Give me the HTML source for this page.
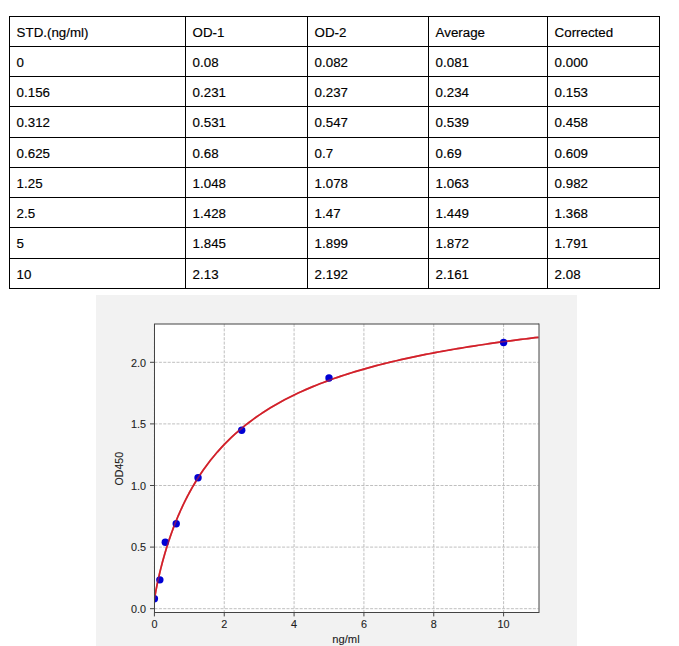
<!DOCTYPE html><html><head><meta charset="utf-8"><style>html,body{margin:0;padding:0;background:#fff;width:679px;height:646px;overflow:hidden}svg{display:block}text{font-family:"Liberation Sans",sans-serif}</style></head><body>
<svg width="679" height="646" viewBox="0 0 679 646">
<rect x="9" y="16" width="651" height="1" fill="#000"/>
<rect x="9" y="46" width="651" height="1" fill="#000"/>
<rect x="9" y="76" width="651" height="1" fill="#000"/>
<rect x="9" y="106" width="651" height="1" fill="#000"/>
<rect x="9" y="137" width="651" height="1" fill="#000"/>
<rect x="9" y="167" width="651" height="1" fill="#000"/>
<rect x="9" y="197" width="651" height="1" fill="#000"/>
<rect x="9" y="227" width="651" height="1" fill="#000"/>
<rect x="9" y="258" width="651" height="1" fill="#000"/>
<rect x="9" y="288" width="651" height="1" fill="#000"/>
<rect x="9" y="16" width="1" height="273" fill="#000"/>
<rect x="185" y="16" width="1" height="273" fill="#000"/>
<rect x="307" y="16" width="1" height="273" fill="#000"/>
<rect x="428" y="16" width="1" height="273" fill="#000"/>
<rect x="547" y="16" width="1" height="273" fill="#000"/>
<rect x="659" y="16" width="1" height="273" fill="#000"/>
<text transform="translate(16.6,37) scale(1.035,1)" font-size="12.9" fill="#000" stroke="#000" stroke-width="0.15">STD.(ng/ml)</text>
<text transform="translate(192.6,37) scale(1.035,1)" font-size="12.9" fill="#000" stroke="#000" stroke-width="0.15">OD-1</text>
<text transform="translate(314.6,37) scale(1.035,1)" font-size="12.9" fill="#000" stroke="#000" stroke-width="0.15">OD-2</text>
<text transform="translate(435.6,37) scale(1.035,1)" font-size="12.9" fill="#000" stroke="#000" stroke-width="0.15">Average</text>
<text transform="translate(554.6,37) scale(1.035,1)" font-size="12.9" fill="#000" stroke="#000" stroke-width="0.15">Corrected</text>
<text transform="translate(16.6,67) scale(1.035,1)" font-size="12.9" fill="#000" stroke="#000" stroke-width="0.15">0</text>
<text transform="translate(192.6,67) scale(1.035,1)" font-size="12.9" fill="#000" stroke="#000" stroke-width="0.15">0.08</text>
<text transform="translate(314.6,67) scale(1.035,1)" font-size="12.9" fill="#000" stroke="#000" stroke-width="0.15">0.082</text>
<text transform="translate(435.6,67) scale(1.035,1)" font-size="12.9" fill="#000" stroke="#000" stroke-width="0.15">0.081</text>
<text transform="translate(554.6,67) scale(1.035,1)" font-size="12.9" fill="#000" stroke="#000" stroke-width="0.15">0.000</text>
<text transform="translate(16.6,97) scale(1.035,1)" font-size="12.9" fill="#000" stroke="#000" stroke-width="0.15">0.156</text>
<text transform="translate(192.6,97) scale(1.035,1)" font-size="12.9" fill="#000" stroke="#000" stroke-width="0.15">0.231</text>
<text transform="translate(314.6,97) scale(1.035,1)" font-size="12.9" fill="#000" stroke="#000" stroke-width="0.15">0.237</text>
<text transform="translate(435.6,97) scale(1.035,1)" font-size="12.9" fill="#000" stroke="#000" stroke-width="0.15">0.234</text>
<text transform="translate(554.6,97) scale(1.035,1)" font-size="12.9" fill="#000" stroke="#000" stroke-width="0.15">0.153</text>
<text transform="translate(16.6,127) scale(1.035,1)" font-size="12.9" fill="#000" stroke="#000" stroke-width="0.15">0.312</text>
<text transform="translate(192.6,127) scale(1.035,1)" font-size="12.9" fill="#000" stroke="#000" stroke-width="0.15">0.531</text>
<text transform="translate(314.6,127) scale(1.035,1)" font-size="12.9" fill="#000" stroke="#000" stroke-width="0.15">0.547</text>
<text transform="translate(435.6,127) scale(1.035,1)" font-size="12.9" fill="#000" stroke="#000" stroke-width="0.15">0.539</text>
<text transform="translate(554.6,127) scale(1.035,1)" font-size="12.9" fill="#000" stroke="#000" stroke-width="0.15">0.458</text>
<text transform="translate(16.6,158) scale(1.035,1)" font-size="12.9" fill="#000" stroke="#000" stroke-width="0.15">0.625</text>
<text transform="translate(192.6,158) scale(1.035,1)" font-size="12.9" fill="#000" stroke="#000" stroke-width="0.15">0.68</text>
<text transform="translate(314.6,158) scale(1.035,1)" font-size="12.9" fill="#000" stroke="#000" stroke-width="0.15">0.7</text>
<text transform="translate(435.6,158) scale(1.035,1)" font-size="12.9" fill="#000" stroke="#000" stroke-width="0.15">0.69</text>
<text transform="translate(554.6,158) scale(1.035,1)" font-size="12.9" fill="#000" stroke="#000" stroke-width="0.15">0.609</text>
<text transform="translate(16.6,188) scale(1.035,1)" font-size="12.9" fill="#000" stroke="#000" stroke-width="0.15">1.25</text>
<text transform="translate(192.6,188) scale(1.035,1)" font-size="12.9" fill="#000" stroke="#000" stroke-width="0.15">1.048</text>
<text transform="translate(314.6,188) scale(1.035,1)" font-size="12.9" fill="#000" stroke="#000" stroke-width="0.15">1.078</text>
<text transform="translate(435.6,188) scale(1.035,1)" font-size="12.9" fill="#000" stroke="#000" stroke-width="0.15">1.063</text>
<text transform="translate(554.6,188) scale(1.035,1)" font-size="12.9" fill="#000" stroke="#000" stroke-width="0.15">0.982</text>
<text transform="translate(16.6,218) scale(1.035,1)" font-size="12.9" fill="#000" stroke="#000" stroke-width="0.15">2.5</text>
<text transform="translate(192.6,218) scale(1.035,1)" font-size="12.9" fill="#000" stroke="#000" stroke-width="0.15">1.428</text>
<text transform="translate(314.6,218) scale(1.035,1)" font-size="12.9" fill="#000" stroke="#000" stroke-width="0.15">1.47</text>
<text transform="translate(435.6,218) scale(1.035,1)" font-size="12.9" fill="#000" stroke="#000" stroke-width="0.15">1.449</text>
<text transform="translate(554.6,218) scale(1.035,1)" font-size="12.9" fill="#000" stroke="#000" stroke-width="0.15">1.368</text>
<text transform="translate(16.6,248) scale(1.035,1)" font-size="12.9" fill="#000" stroke="#000" stroke-width="0.15">5</text>
<text transform="translate(192.6,248) scale(1.035,1)" font-size="12.9" fill="#000" stroke="#000" stroke-width="0.15">1.845</text>
<text transform="translate(314.6,248) scale(1.035,1)" font-size="12.9" fill="#000" stroke="#000" stroke-width="0.15">1.899</text>
<text transform="translate(435.6,248) scale(1.035,1)" font-size="12.9" fill="#000" stroke="#000" stroke-width="0.15">1.872</text>
<text transform="translate(554.6,248) scale(1.035,1)" font-size="12.9" fill="#000" stroke="#000" stroke-width="0.15">1.791</text>
<text transform="translate(16.6,279) scale(1.035,1)" font-size="12.9" fill="#000" stroke="#000" stroke-width="0.15">10</text>
<text transform="translate(192.6,279) scale(1.035,1)" font-size="12.9" fill="#000" stroke="#000" stroke-width="0.15">2.13</text>
<text transform="translate(314.6,279) scale(1.035,1)" font-size="12.9" fill="#000" stroke="#000" stroke-width="0.15">2.192</text>
<text transform="translate(435.6,279) scale(1.035,1)" font-size="12.9" fill="#000" stroke="#000" stroke-width="0.15">2.161</text>
<text transform="translate(554.6,279) scale(1.035,1)" font-size="12.9" fill="#000" stroke="#000" stroke-width="0.15">2.08</text>
<rect x="96" y="295" width="481" height="351" fill="#f2f2f2"/>
<rect x="154.5" y="324" width="384.5" height="288.5" fill="#fff"/>
<line x1="154.40" y1="324" x2="154.40" y2="612" stroke="#b8b8b8" stroke-width="0.9" stroke-dasharray="3,1.4"/>
<line x1="224.24" y1="324" x2="224.24" y2="612" stroke="#b8b8b8" stroke-width="0.9" stroke-dasharray="3,1.4"/>
<line x1="294.08" y1="324" x2="294.08" y2="612" stroke="#b8b8b8" stroke-width="0.9" stroke-dasharray="3,1.4"/>
<line x1="363.92" y1="324" x2="363.92" y2="612" stroke="#b8b8b8" stroke-width="0.9" stroke-dasharray="3,1.4"/>
<line x1="433.76" y1="324" x2="433.76" y2="612" stroke="#b8b8b8" stroke-width="0.9" stroke-dasharray="3,1.4"/>
<line x1="503.60" y1="324" x2="503.60" y2="612" stroke="#b8b8b8" stroke-width="0.9" stroke-dasharray="3,1.4"/>
<line x1="154.5" y1="608.70" x2="538.5" y2="608.70" stroke="#b8b8b8" stroke-width="0.9" stroke-dasharray="3,1.4"/>
<line x1="154.5" y1="547.10" x2="538.5" y2="547.10" stroke="#b8b8b8" stroke-width="0.9" stroke-dasharray="3,1.4"/>
<line x1="154.5" y1="485.50" x2="538.5" y2="485.50" stroke="#b8b8b8" stroke-width="0.9" stroke-dasharray="3,1.4"/>
<line x1="154.5" y1="423.90" x2="538.5" y2="423.90" stroke="#b8b8b8" stroke-width="0.9" stroke-dasharray="3,1.4"/>
<line x1="154.5" y1="362.30" x2="538.5" y2="362.30" stroke="#b8b8b8" stroke-width="0.9" stroke-dasharray="3,1.4"/>
<polyline points="154.42,599.70 154.51,598.98 154.60,598.34 154.69,597.73 154.78,597.14 154.87,596.56 154.96,596.00 155.05,595.45 155.15,594.91 155.24,594.38 155.33,593.86 155.42,593.34 155.51,592.83 155.60,592.33 155.69,591.83 155.78,591.33 155.87,590.84 155.96,590.36 156.06,589.88 156.15,589.40 156.15,589.40 156.71,586.54 157.27,583.79 157.83,581.15 158.40,578.59 158.96,576.11 159.52,573.70 160.08,571.36 160.64,569.08 161.21,566.85 161.77,564.67 162.33,562.54 162.89,560.46 163.46,558.42 164.02,556.42 164.58,554.46 165.14,552.54 165.70,550.65 166.27,548.80 166.83,546.99 167.39,545.20 167.95,543.45 168.52,541.72 169.08,540.03 169.64,538.36 170.20,536.72 170.77,535.11 171.33,533.52 171.89,531.96 172.45,530.42 173.01,528.90 173.58,527.40 174.14,525.93 174.70,524.48 175.26,523.05 175.83,521.64 176.39,520.25 176.95,518.88 177.51,517.52 178.07,516.19 178.64,514.87 179.20,513.57 179.76,512.29 180.32,511.02 180.89,509.77 181.45,508.54 182.01,507.32 182.57,506.12 183.14,504.93 183.70,503.75 184.26,502.59 184.82,501.45 185.38,500.32 185.95,499.20 186.51,498.09 187.07,497.00 187.63,495.92 188.20,494.85 188.76,493.79 189.32,492.75 189.32,492.75 192.85,486.45 196.37,480.57 199.90,475.05 203.43,469.85 206.96,464.96 210.48,460.34 214.01,455.96 217.54,451.82 221.07,447.88 224.59,444.13 228.12,440.56 231.65,437.15 235.17,433.90 238.70,430.79 242.23,427.81 245.76,424.95 249.28,422.22 252.81,419.58 256.34,417.06 259.87,414.62 263.39,412.28 266.92,410.02 270.45,407.84 273.97,405.74 277.50,403.71 281.03,401.75 284.56,399.85 288.08,398.01 291.61,396.24 295.14,394.51 298.67,392.84 302.19,391.22 305.72,389.65 309.25,388.12 312.77,386.64 316.30,385.20 319.83,383.80 323.36,382.44 326.88,381.11 330.41,379.82 333.94,378.56 337.47,377.34 340.99,376.15 344.52,374.98 348.05,373.85 351.57,372.74 355.10,371.66 358.63,370.61 362.16,369.58 365.68,368.57 369.21,367.59 372.74,366.62 376.27,365.69 379.79,364.77 383.32,363.87 386.85,362.99 390.37,362.13 393.90,361.28 397.43,360.46 400.96,359.65 404.48,358.86 408.01,358.08 411.54,357.32 415.07,356.58 418.59,355.84 422.12,355.13 425.65,354.42 429.17,353.73 432.70,353.06 436.23,352.39 439.76,351.74 443.28,351.10 446.81,350.47 450.34,349.85 453.87,349.24 457.39,348.64 460.92,348.06 464.45,347.48 467.97,346.92 471.50,346.36 475.03,345.81 478.56,345.27 482.08,344.74 485.61,344.22 489.14,343.71 492.67,343.20 496.19,342.70 499.72,342.21 503.25,341.73 506.77,341.26 510.30,340.79 513.83,340.33 517.36,339.88 520.88,339.43 524.41,338.99 527.94,338.56 531.47,338.13 534.99,337.71 538.52,337.30" fill="none" stroke="#d2212a" stroke-width="1.7" clip-path="url(#c)"/>
<g clip-path="url(#c)">
<circle cx="154.40" cy="598.72" r="3.7" fill="#0000d4"/>
<circle cx="159.85" cy="579.87" r="3.7" fill="#0000d4"/>
<circle cx="165.30" cy="542.30" r="3.7" fill="#0000d4"/>
<circle cx="176.23" cy="523.69" r="3.7" fill="#0000d4"/>
<circle cx="198.05" cy="477.74" r="3.7" fill="#0000d4"/>
<circle cx="241.70" cy="430.18" r="3.7" fill="#0000d4"/>
<circle cx="329.00" cy="378.07" r="3.7" fill="#0000d4"/>
<circle cx="503.60" cy="342.46" r="3.7" fill="#0000d4"/>
</g>
<polyline points="154.42,599.70 154.51,598.98 154.60,598.34 154.69,597.73 154.78,597.14 154.87,596.56 154.96,596.00 155.05,595.45 155.15,594.91 155.24,594.38 155.33,593.86 155.42,593.34 155.51,592.83 155.60,592.33 155.69,591.83 155.78,591.33 155.87,590.84 155.96,590.36 156.06,589.88 156.15,589.40 156.15,589.40 156.71,586.54 157.27,583.79 157.83,581.15 158.40,578.59 158.96,576.11 159.52,573.70 160.08,571.36 160.64,569.08 161.21,566.85 161.77,564.67 162.33,562.54 162.89,560.46 163.46,558.42 164.02,556.42 164.58,554.46 165.14,552.54 165.70,550.65 166.27,548.80 166.83,546.99 167.39,545.20 167.95,543.45 168.52,541.72 169.08,540.03 169.64,538.36 170.20,536.72 170.77,535.11 171.33,533.52 171.89,531.96 172.45,530.42 173.01,528.90 173.58,527.40 174.14,525.93 174.70,524.48 175.26,523.05 175.83,521.64 176.39,520.25 176.95,518.88 177.51,517.52 178.07,516.19 178.64,514.87 179.20,513.57 179.76,512.29 180.32,511.02 180.89,509.77 181.45,508.54 182.01,507.32 182.57,506.12 183.14,504.93 183.70,503.75 184.26,502.59 184.82,501.45 185.38,500.32 185.95,499.20 186.51,498.09 187.07,497.00 187.63,495.92 188.20,494.85 188.76,493.79 189.32,492.75 189.32,492.75 192.85,486.45 196.37,480.57 199.90,475.05 203.43,469.85 206.96,464.96 210.48,460.34 214.01,455.96 217.54,451.82 221.07,447.88 224.59,444.13 228.12,440.56 231.65,437.15 235.17,433.90 238.70,430.79 242.23,427.81 245.76,424.95 249.28,422.22 252.81,419.58 256.34,417.06 259.87,414.62 263.39,412.28 266.92,410.02 270.45,407.84 273.97,405.74 277.50,403.71 281.03,401.75 284.56,399.85 288.08,398.01 291.61,396.24 295.14,394.51 298.67,392.84 302.19,391.22 305.72,389.65 309.25,388.12 312.77,386.64 316.30,385.20 319.83,383.80 323.36,382.44 326.88,381.11 330.41,379.82 333.94,378.56 337.47,377.34 340.99,376.15 344.52,374.98 348.05,373.85 351.57,372.74 355.10,371.66 358.63,370.61 362.16,369.58 365.68,368.57 369.21,367.59 372.74,366.62 376.27,365.69 379.79,364.77 383.32,363.87 386.85,362.99 390.37,362.13 393.90,361.28 397.43,360.46 400.96,359.65 404.48,358.86 408.01,358.08 411.54,357.32 415.07,356.58 418.59,355.84 422.12,355.13 425.65,354.42 429.17,353.73 432.70,353.06 436.23,352.39 439.76,351.74 443.28,351.10 446.81,350.47 450.34,349.85 453.87,349.24 457.39,348.64 460.92,348.06 464.45,347.48 467.97,346.92 471.50,346.36 475.03,345.81 478.56,345.27 482.08,344.74 485.61,344.22 489.14,343.71 492.67,343.20 496.19,342.70 499.72,342.21 503.25,341.73 506.77,341.26 510.30,340.79 513.83,340.33 517.36,339.88 520.88,339.43 524.41,338.99 527.94,338.56 531.47,338.13 534.99,337.71 538.52,337.30" fill="none" stroke="#d2212a" stroke-width="1.7" opacity="0.55" clip-path="url(#c)"/>
<rect x="154" y="324" width="1" height="289" fill="#444"/>
<rect x="154" y="612" width="385" height="1" fill="#444"/>
<line x1="154" y1="324" x2="539" y2="324" stroke="#444" stroke-width="1"/>
<line x1="539" y1="323.5" x2="539" y2="613" stroke="#444" stroke-width="1"/>
<line x1="154.40" y1="612.5" x2="154.40" y2="616.4" stroke="#444" stroke-width="1"/>
<text x="154.40" y="628" font-size="10.8" fill="#1e1e1e" stroke="#1e1e1e" stroke-width="0.12" text-anchor="middle">0</text>
<line x1="224.24" y1="612.5" x2="224.24" y2="616.4" stroke="#444" stroke-width="1"/>
<text x="224.24" y="628" font-size="10.8" fill="#1e1e1e" stroke="#1e1e1e" stroke-width="0.12" text-anchor="middle">2</text>
<line x1="294.08" y1="612.5" x2="294.08" y2="616.4" stroke="#444" stroke-width="1"/>
<text x="294.08" y="628" font-size="10.8" fill="#1e1e1e" stroke="#1e1e1e" stroke-width="0.12" text-anchor="middle">4</text>
<line x1="363.92" y1="612.5" x2="363.92" y2="616.4" stroke="#444" stroke-width="1"/>
<text x="363.92" y="628" font-size="10.8" fill="#1e1e1e" stroke="#1e1e1e" stroke-width="0.12" text-anchor="middle">6</text>
<line x1="433.76" y1="612.5" x2="433.76" y2="616.4" stroke="#444" stroke-width="1"/>
<text x="433.76" y="628" font-size="10.8" fill="#1e1e1e" stroke="#1e1e1e" stroke-width="0.12" text-anchor="middle">8</text>
<line x1="503.60" y1="612.5" x2="503.60" y2="616.4" stroke="#444" stroke-width="1"/>
<text x="503.60" y="628" font-size="10.8" fill="#1e1e1e" stroke="#1e1e1e" stroke-width="0.12" text-anchor="middle">10</text>
<line x1="150" y1="608.70" x2="154.5" y2="608.70" stroke="#444" stroke-width="1"/>
<text x="146" y="612.90" font-size="10.8" fill="#1e1e1e" stroke="#1e1e1e" stroke-width="0.12" text-anchor="end">0.0</text>
<line x1="150" y1="547.10" x2="154.5" y2="547.10" stroke="#444" stroke-width="1"/>
<text x="146" y="551.30" font-size="10.8" fill="#1e1e1e" stroke="#1e1e1e" stroke-width="0.12" text-anchor="end">0.5</text>
<line x1="150" y1="485.50" x2="154.5" y2="485.50" stroke="#444" stroke-width="1"/>
<text x="146" y="489.70" font-size="10.8" fill="#1e1e1e" stroke="#1e1e1e" stroke-width="0.12" text-anchor="end">1.0</text>
<line x1="150" y1="423.90" x2="154.5" y2="423.90" stroke="#444" stroke-width="1"/>
<text x="146" y="428.10" font-size="10.8" fill="#1e1e1e" stroke="#1e1e1e" stroke-width="0.12" text-anchor="end">1.5</text>
<line x1="150" y1="362.30" x2="154.5" y2="362.30" stroke="#444" stroke-width="1"/>
<text x="146" y="366.50" font-size="10.8" fill="#1e1e1e" stroke="#1e1e1e" stroke-width="0.12" text-anchor="end">2.0</text>
<text x="346" y="642.8" font-size="11.2" fill="#1e1e1e" stroke="#1e1e1e" stroke-width="0.12" text-anchor="middle">ng/ml</text>
<text transform="translate(123.3,468.7) rotate(-90)" x="0" y="0" font-size="10.6" fill="#1e1e1e" stroke="#1e1e1e" stroke-width="0.12" text-anchor="middle">OD450</text>
<defs><clipPath id="c"><rect x="154.5" y="323.5" width="385" height="289"/></clipPath></defs>
</svg></body></html>
